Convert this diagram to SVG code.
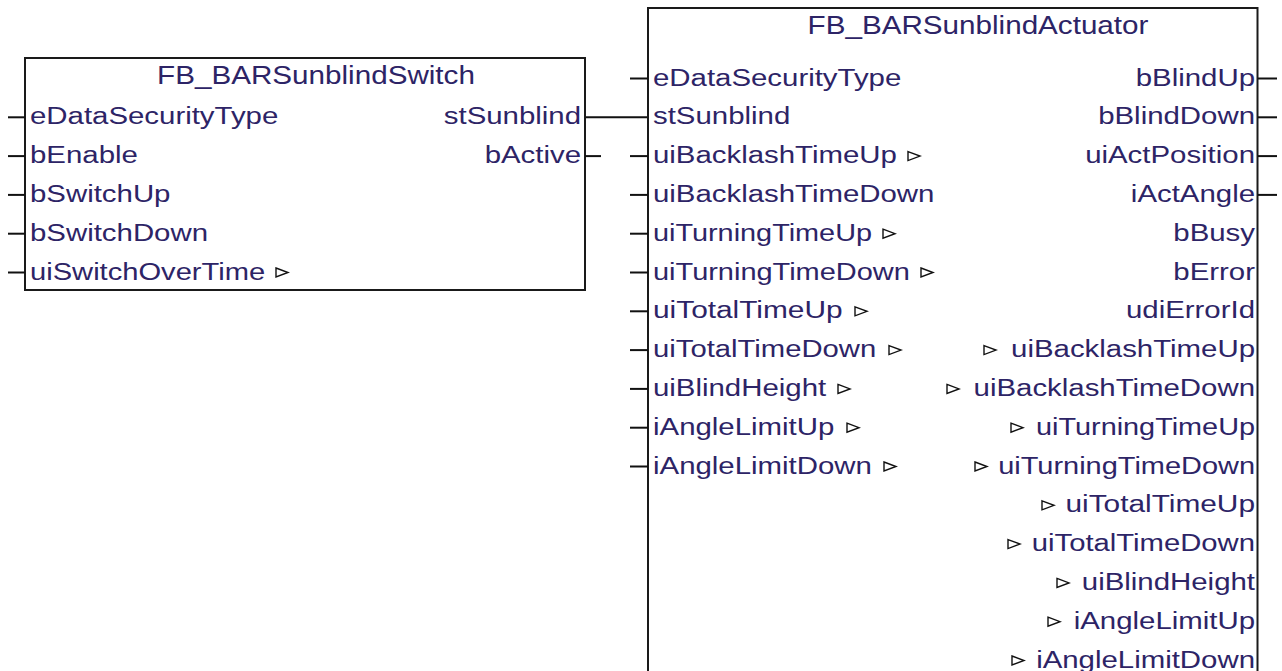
<svg xmlns="http://www.w3.org/2000/svg" xmlns:xlink="http://www.w3.org/1999/xlink" width="1282" height="671" viewBox="0 0 1282 671">
<style>
.box{fill:#fff;stroke:#1a1a1a;stroke-width:2}
.pin{stroke:#111;stroke-width:2;fill:none}
.t{font-family:"Liberation Sans",Arial,sans-serif;font-size:24.5px;fill:#2d2466}
.ti{font-family:"Liberation Sans",Arial,sans-serif;font-size:25px;fill:#2d2466;text-anchor:middle}
.e{text-anchor:end}
.io{fill:#fff;stroke:#111;stroke-width:1.4;stroke-linejoin:miter}
</style>
<defs>
<polygon id="io" class="io" points="0,-4.5 12,0 0,4.5"/>
</defs>
<rect x="0" y="0" width="1282" height="671" fill="#fff"/>

<g id="connectors">
<line class="pin" x1="585" y1="117.3" x2="648" y2="117.3"/>
</g>

<g id="fb-sunblind-switch">
<rect class="box" x="25" y="58" width="560" height="232"/>
<text class="ti" transform="translate(316,83.5) scale(1.185,1)">FB_BARSunblindSwitch</text>
<line class="pin" x1="8" y1="117.3" x2="25" y2="117.3"/>
<line class="pin" x1="8" y1="156.1" x2="25" y2="156.1"/>
<line class="pin" x1="8" y1="194.9" x2="25" y2="194.9"/>
<line class="pin" x1="8" y1="233.7" x2="25" y2="233.7"/>
<line class="pin" x1="8" y1="272.5" x2="25" y2="272.5"/>
<line class="pin" x1="585" y1="156.1" x2="601" y2="156.1"/>
<text class="t" transform="translate(30,124.3) scale(1.2,1)">eDataSecurityType</text>
<text class="t" transform="translate(30,163.1) scale(1.2,1)">bEnable</text>
<text class="t" transform="translate(30,201.9) scale(1.2,1)">bSwitchUp</text>
<text class="t" transform="translate(30,240.7) scale(1.2,1)">bSwitchDown</text>
<text class="t" transform="translate(30,279.5) scale(1.2,1)" textLength="196" lengthAdjust="spacingAndGlyphs">uiSwitchOverTime</text>
<use xlink:href="#io" x="276" y="272.5"/>
<text class="t e" transform="translate(581,124.3) scale(1.2,1)">stSunblind</text>
<text class="t e" transform="translate(581,163.1) scale(1.2,1)">bActive</text>
</g>

<g id="fb-sunblind-actuator">
<rect class="box" x="648" y="8" width="609.5" height="690"/>
<text class="ti" transform="translate(978,33.5) scale(1.185,1)">FB_BARSunblindActuator</text>
<line class="pin" x1="630" y1="78.5" x2="648" y2="78.5"/>
<line class="pin" x1="630" y1="156.1" x2="648" y2="156.1"/>
<line class="pin" x1="630" y1="194.9" x2="648" y2="194.9"/>
<line class="pin" x1="630" y1="233.7" x2="648" y2="233.7"/>
<line class="pin" x1="630" y1="272.5" x2="648" y2="272.5"/>
<line class="pin" x1="630" y1="311.3" x2="648" y2="311.3"/>
<line class="pin" x1="630" y1="350.1" x2="648" y2="350.1"/>
<line class="pin" x1="630" y1="388.9" x2="648" y2="388.9"/>
<line class="pin" x1="630" y1="427.7" x2="648" y2="427.7"/>
<line class="pin" x1="630" y1="466.5" x2="648" y2="466.5"/>
<line class="pin" x1="1258" y1="78.5" x2="1277" y2="78.5"/>
<line class="pin" x1="1258" y1="117.3" x2="1277" y2="117.3"/>
<line class="pin" x1="1258" y1="156.1" x2="1277" y2="156.1"/>
<line class="pin" x1="1258" y1="194.9" x2="1277" y2="194.9"/>

<text class="t" transform="translate(653,85.5) scale(1.2,1)">eDataSecurityType</text>
<text class="t" transform="translate(653,124.3) scale(1.2,1)">stSunblind</text>
<text class="t" transform="translate(653,163.1) scale(1.2,1)">uiBacklashTimeUp</text>
<text class="t" transform="translate(653,201.9) scale(1.2,1)">uiBacklashTimeDown</text>
<text class="t" transform="translate(653,240.7) scale(1.2,1)" textLength="182.5" lengthAdjust="spacingAndGlyphs">uiTurningTimeUp</text>
<text class="t" transform="translate(653,279.5) scale(1.2,1)" textLength="214" lengthAdjust="spacingAndGlyphs">uiTurningTimeDown</text>
<text class="t" transform="translate(653,318.3) scale(1.2,1)" textLength="158" lengthAdjust="spacingAndGlyphs">uiTotalTimeUp</text>
<text class="t" transform="translate(653,357.1) scale(1.2,1)" textLength="186" lengthAdjust="spacingAndGlyphs">uiTotalTimeDown</text>
<text class="t" transform="translate(653,395.9) scale(1.2,1)">uiBlindHeight</text>
<text class="t" transform="translate(653,434.7) scale(1.2,1)">iAngleLimitUp</text>
<text class="t" transform="translate(653,473.5) scale(1.2,1)">iAngleLimitDown</text>
<use xlink:href="#io" x="908" y="156.1"/>
<use xlink:href="#io" x="883" y="233.7"/>
<use xlink:href="#io" x="921" y="272.5"/>
<use xlink:href="#io" x="855" y="311.3"/>
<use xlink:href="#io" x="889" y="350.1"/>
<use xlink:href="#io" x="838" y="388.9"/>
<use xlink:href="#io" x="847" y="427.7"/>
<use xlink:href="#io" x="884" y="466.5"/>

<text class="t e" transform="translate(1255,85.5) scale(1.2,1)">bBlindUp</text>
<text class="t e" transform="translate(1255,124.3) scale(1.2,1)">bBlindDown</text>
<text class="t e" transform="translate(1255,163.1) scale(1.2,1)">uiActPosition</text>
<text class="t e" transform="translate(1255,201.9) scale(1.2,1)">iActAngle</text>
<text class="t e" transform="translate(1255,240.7) scale(1.2,1)">bBusy</text>
<text class="t e" transform="translate(1255,279.5) scale(1.2,1)">bError</text>
<text class="t e" transform="translate(1255,318.3) scale(1.2,1)">udiErrorId</text>
<text class="t e" transform="translate(1255,357.1) scale(1.2,1)">uiBacklashTimeUp</text>
<text class="t e" transform="translate(1255,395.9) scale(1.2,1)">uiBacklashTimeDown</text>
<text class="t e" transform="translate(1255,434.7) scale(1.2,1)" textLength="182.5" lengthAdjust="spacingAndGlyphs">uiTurningTimeUp</text>
<text class="t e" transform="translate(1255,473.5) scale(1.2,1)" textLength="214" lengthAdjust="spacingAndGlyphs">uiTurningTimeDown</text>
<text class="t e" transform="translate(1255,512.3) scale(1.2,1)" textLength="158" lengthAdjust="spacingAndGlyphs">uiTotalTimeUp</text>
<text class="t e" transform="translate(1255,551.1) scale(1.2,1)" textLength="186" lengthAdjust="spacingAndGlyphs">uiTotalTimeDown</text>
<text class="t e" transform="translate(1255,589.9) scale(1.2,1)">uiBlindHeight</text>
<text class="t e" transform="translate(1255,628.7) scale(1.2,1)">iAngleLimitUp</text>
<text class="t e" transform="translate(1255,667.5) scale(1.2,1)">iAngleLimitDown</text>
<use xlink:href="#io" x="984" y="350.1"/>
<use xlink:href="#io" x="947" y="388.9"/>
<use xlink:href="#io" x="1011" y="427.7"/>
<use xlink:href="#io" x="975" y="466.5"/>
<use xlink:href="#io" x="1042" y="505.3"/>
<use xlink:href="#io" x="1008" y="544.1"/>
<use xlink:href="#io" x="1057" y="582.9"/>
<use xlink:href="#io" x="1048" y="621.7"/>
<use xlink:href="#io" x="1012" y="660.5"/>
</g>
</svg>
